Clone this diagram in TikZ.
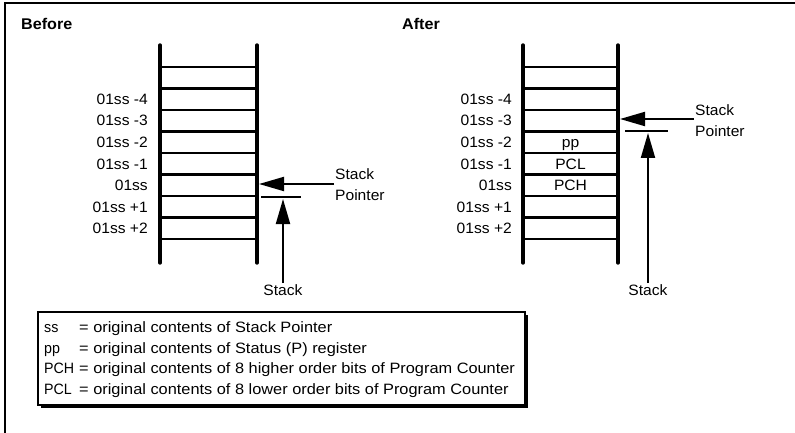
\documentclass[tikz,border=0pt]{standalone}
\usepackage{fontspec}
\setmainfont{Liberation Sans}[FakeStretch=1.04]
\newfontfamily\legfont{Liberation Sans}[FakeStretch=1.09]
\newfontfamily\keyfont{Liberation Sans}[FakeStretch=0.95]
\usetikzlibrary{arrows.meta}
\begin{document}
\begin{tikzpicture}[x=1pt,y=-1pt,
  rail/.style={line width=3.4pt, line cap=round},
  rung/.style={line width=2.1pt},
  frame/.style={line width=2pt},
  lbl/.style={font=\fontsize{15}{17}\selectfont, anchor=base east, inner sep=0pt},
  cell/.style={font=\fontsize{15}{17}\selectfont, anchor=base, inner sep=0pt},
  head/.style={font=\fontsize{15.5}{17}\selectfont\bfseries, anchor=base west, inner sep=0pt},
  sptext/.style={font=\fontsize{15}{21}\selectfont, align=left, anchor=west, inner sep=1pt},
  stk/.style={font=\fontsize{15}{17}\selectfont, anchor=north, inner sep=1pt},
  ptr/.style={line width=2pt, -{Triangle[length=25pt,width=14pt]}},
  legk/.style={font=\keyfont\fontsize{15}{17}\selectfont, anchor=base west, inner sep=0pt},
  legt/.style={font=\legfont\fontsize{15}{17}\selectfont, anchor=base west, inner sep=0pt},
]
\useasboundingbox (0,0) rectangle (795,433);

% outer frame
\coordinate (fa) at (5,433);
\coordinate (fb) at (5,3);
\coordinate (fc) at (795,3);
\draw[frame] (fa) -- (fb) -- (fc);

% headings
\node[head] (before) at (21,30) {Before};
\node[head] (after) at (402,30) {After};

% stacks
\foreach \xl/\xr/\nm in {160/257/b, 523/618/a}{
  \draw[rail] (\xl,45) -- (\xl,263);
  \draw[rail] (\xr,45) -- (\xr,263);
  \foreach \i in {0,...,8}{
    \draw[rung] (\xl,67+21.5*\i) -- (\xr,67+21.5*\i);
  }
}

% row labels
\foreach \xe/\nm in {148/b, 512/a}{
  \node[lbl] (\nm l1) at (\xe,104.5) {01ss -4};
  \node[lbl] (\nm l2) at (\xe,126) {01ss -3};
  \node[lbl] (\nm l3) at (\xe,147.5) {01ss -2};
  \node[lbl] (\nm l4) at (\xe,169) {01ss -1};
  \node[lbl] (\nm l5) at (\xe,190.5) {01ss};
  \node[lbl] (\nm l6) at (\xe,212) {01ss +1};
  \node[lbl] (\nm l7) at (\xe,233.5) {01ss +2};
}

% cell contents (after)
\node[cell] (pp) at (570.5,147.5) {pp};
\node[cell] (pcl) at (570.5,169) {PCL};
\node[cell] (pch) at (570.5,190.5) {PCH};

% before: stack pointer
\node[sptext] (bsp) at (334,184.5) {Stack\\Pointer};
\coordinate (btip) at (259,184);
\draw[ptr] (bsp.west |- btip) -- (btip);
\coordinate (bu1) at (261,197);
\coordinate (bu2) at (301,197);
\draw[rung] (bu1) -- (bu2);
\node[stk] (bstack) at (283,283) {Stack};
\coordinate (bvt) at (283,199);
\draw[ptr] (bstack.north) -- (bvt);

% after: stack pointer
\node[sptext] (asp) at (694,120.5) {Stack\\Pointer};
\coordinate (atip) at (620,119);
\draw[ptr] (asp.west |- atip) -- (atip);
\coordinate (au1) at (625,131);
\coordinate (au2) at (668,131);
\draw[rung] (au1) -- (au2);
\node[stk] (astack) at (648,283) {Stack};
\coordinate (avt) at (648,133);
\draw[ptr] (astack.north) -- (avt);

% legend box with shadow
\fill (40.5,314.5) rectangle (528,408);
\draw[line width=1.2pt, fill=white] (38,312) rectangle (525,405);
\node[legk] (k1) at (44,332.5) {ss};
\node[legk] (k2) at (44,353) {pp};
\node[legk] (k3) at (44,373.5) {PCH};
\node[legk] (k4) at (44,394) {PCL};
\node[legt] (t1) at (79,332.5) {= original contents of Stack Pointer};
\node[legt] (t2) at (79,353) {= original contents of Status (P) register};
\node[legt] (t3) at (79,373.5) {= original contents of 8 higher order bits of Program Counter};
\node[legt] (t4) at (79,394) {= original contents of 8 lower order bits of Program Counter};
\end{tikzpicture}
\end{document}
